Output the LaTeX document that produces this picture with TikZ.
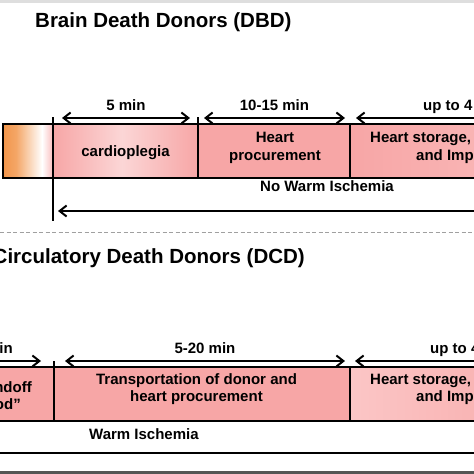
\documentclass[tikz,border=0pt]{standalone}
\usepackage{fontspec}
\setmainfont{Liberation Sans}
\usetikzlibrary{arrows.meta}
\definecolor{orng}{RGB}{242,150,75}
\definecolor{pinkA}{RGB}{247,166,166}
\definecolor{pinkL}{RGB}{251,214,214}
\definecolor{pinkM}{RGB}{249,180,180}
\definecolor{pinkS}{RGB}{251,198,198}
\definecolor{topgray}{RGB}{222,222,222}
\definecolor{botgray}{RGB}{85,85,85}
\definecolor{dashgray}{RGB}{160,160,160}
\begin{document}
\begin{tikzpicture}[x=1pt,y=-1pt,
  txt/.style={font=\fontsize{15}{18}\selectfont\bfseries, inner sep=0pt, anchor=base},
  ttl/.style={font=\fontsize{20.5}{24}\selectfont\bfseries, inner sep=0pt},
  barline/.style={line width=2.4pt, black},
  divline/.style={line width=2.2pt, black},
  dimline/.style={line width=2pt, black},
  dimboth/.style={dimline, {Straight Barb[length=7pt,width=11pt]}-{Straight Barb[length=7pt,width=11pt]}},
  dimleft/.style={dimline, {Straight Barb[length=7pt,width=11pt]}-},
  dimright/.style={dimline, -{Straight Barb[length=7pt,width=11pt]}}]
\useasboundingbox (0,0) rectangle (474,474);
\clip (0,0) rectangle (474,474);
\fill[white] (0,0) rectangle (474,474);
% frame bands
\fill[topgray] (0,0) rectangle (474,2.8);
\fill[botgray] (0,471) rectangle (474,474);

% ---------------- DBD ----------------
\node[ttl, anchor=base west] (t1) at (35,27) {Brain Death Donors (DBD)};

% bar fills
\shade[left color=orng, right color=orng!85!white] (3,124) rectangle (16,178);
\shade[left color=orng!85!white, right color=white] (16,124) rectangle (42,178);
\shade[left color=white, right color=pinkA!75!white] (42,124) rectangle (53,178);
\shade[left color=pinkA, right color=pinkL] (53,124) rectangle (122,178);
\shade[left color=pinkL, right color=pinkA] (122,124) rectangle (198,178);
\fill[pinkA] (198,124) rectangle (350,178);
\shade[left color=pinkA, right color=pinkM] (350,124) rectangle (480,178);
% bar outline and dividers
\draw[barline] (480,124) -- (3,124) -- (3,178) -- (480,178);
\coordinate (d1top) at (53,117);
\coordinate (d1bot) at (53,221);
\coordinate (d2top) at (198,117);
\coordinate (d2bot) at (198,178);
\coordinate (d3top) at (350,124);
\coordinate (d3bot) at (350,178);
\draw[divline] (d1top) -- (d1bot);
\draw[divline] (d2top) -- (d2bot);
\draw[divline] (d3top) -- (d3bot);

% timing arrows
\coordinate (a1l) at (62,118);
\coordinate (a1r) at (190,118);
\coordinate (a2l) at (204,118);
\coordinate (a2r) at (345,118);
\coordinate (a3l) at (356,118);
\coordinate (a3r) at (480,118);
\draw[dimboth] (a1l) -- (a1r);
\draw[dimboth] (a2l) -- (a2r);
\draw[dimleft] (a3l) -- (a3r);
\node[txt] (l1) at (126,110) {5 min};
\node[txt] (l2) at (274.5,110) {10-15 min};
\node[txt, anchor=base west] (l3) at (423,110) {up to 4};

% bar texts
\node[txt] (b1) at (125.5,156) {cardioplegia};
\node[txt] (b2a) at (275,142.5) {Heart};
\node[txt] (b2b) at (275,160) {procurement};
\node[txt, anchor=base west] (b3a) at (370,142) {Heart storage,};
\node[txt, anchor=base west] (b3b) at (416,160) {and Imp};
\node[txt] (nw) at (327,191) {No Warm Ischemia};

% long arrow
\coordinate (w1l) at (58,211);
\coordinate (w1r) at (480,211);
\draw[dimleft] (w1l) -- (w1r);

% separator
\coordinate (sepl) at (0,232);
\coordinate (sepr) at (474,232);
\draw[dashgray, line width=1pt, dash pattern=on 4pt off 2.5pt] (sepl) -- (sepr);

% ---------------- DCD ----------------
\node[ttl, anchor=base east] (t2) at (305,263) {Circulatory Death Donors (DCD)};

% bar fills
\fill[pinkA] (-10,367) rectangle (54,421);
\fill[pinkA] (54,367) rectangle (350,421);
\shade[left color=pinkS, right color=pinkM] (350,367) rectangle (480,421);
\draw[barline] (-10,367) -- (480,367);
\draw[barline] (-10,421) -- (480,421);
\coordinate (e1top) at (54,361);
\coordinate (e1bot) at (54,421);
\coordinate (e2top) at (350,367);
\coordinate (e2bot) at (350,421);
\draw[divline] (e1top) -- (e1bot);
\draw[divline] (e2top) -- (e2bot);

% timing arrows
\coordinate (c1l) at (-10,361);
\coordinate (c1r) at (41,361);
\coordinate (c2l) at (65,361);
\coordinate (c2r) at (345,361);
\coordinate (c3l) at (355,361);
\coordinate (c3r) at (480,361);
\draw[dimright] (c1l) -- (c1r);
\draw[dimboth] (c2l) -- (c2r);
\draw[dimleft] (c3l) -- (c3r);
\node[txt, anchor=base east] (m1) at (13,353) {in};
\node[txt] (m2) at (205,353) {5-20 min};
\node[txt, anchor=base west] (m3) at (430,353) {up to 4};

% bar texts
\node[txt, anchor=base east] (s1a) at (32,392) {ndoff};
\node[txt, anchor=base east] (s1b) at (21,409) {od”};
\node[txt] (s2a) at (196.5,384.5) {Transportation of donor and};
\node[txt] (s2b) at (196.5,401.5) {heart procurement};
\node[txt, anchor=base west] (s3a) at (370,384.5) {Heart storage,};
\node[txt, anchor=base west] (s3b) at (416,401.5) {and Imp};
\node[txt, anchor=base west] (wi) at (89,439) {Warm Ischemia};

% bottom line
\coordinate (bl) at (-10,453);
\coordinate (br) at (480,453);
\draw[barline] (bl) -- (br);
\end{tikzpicture}
\end{document}
